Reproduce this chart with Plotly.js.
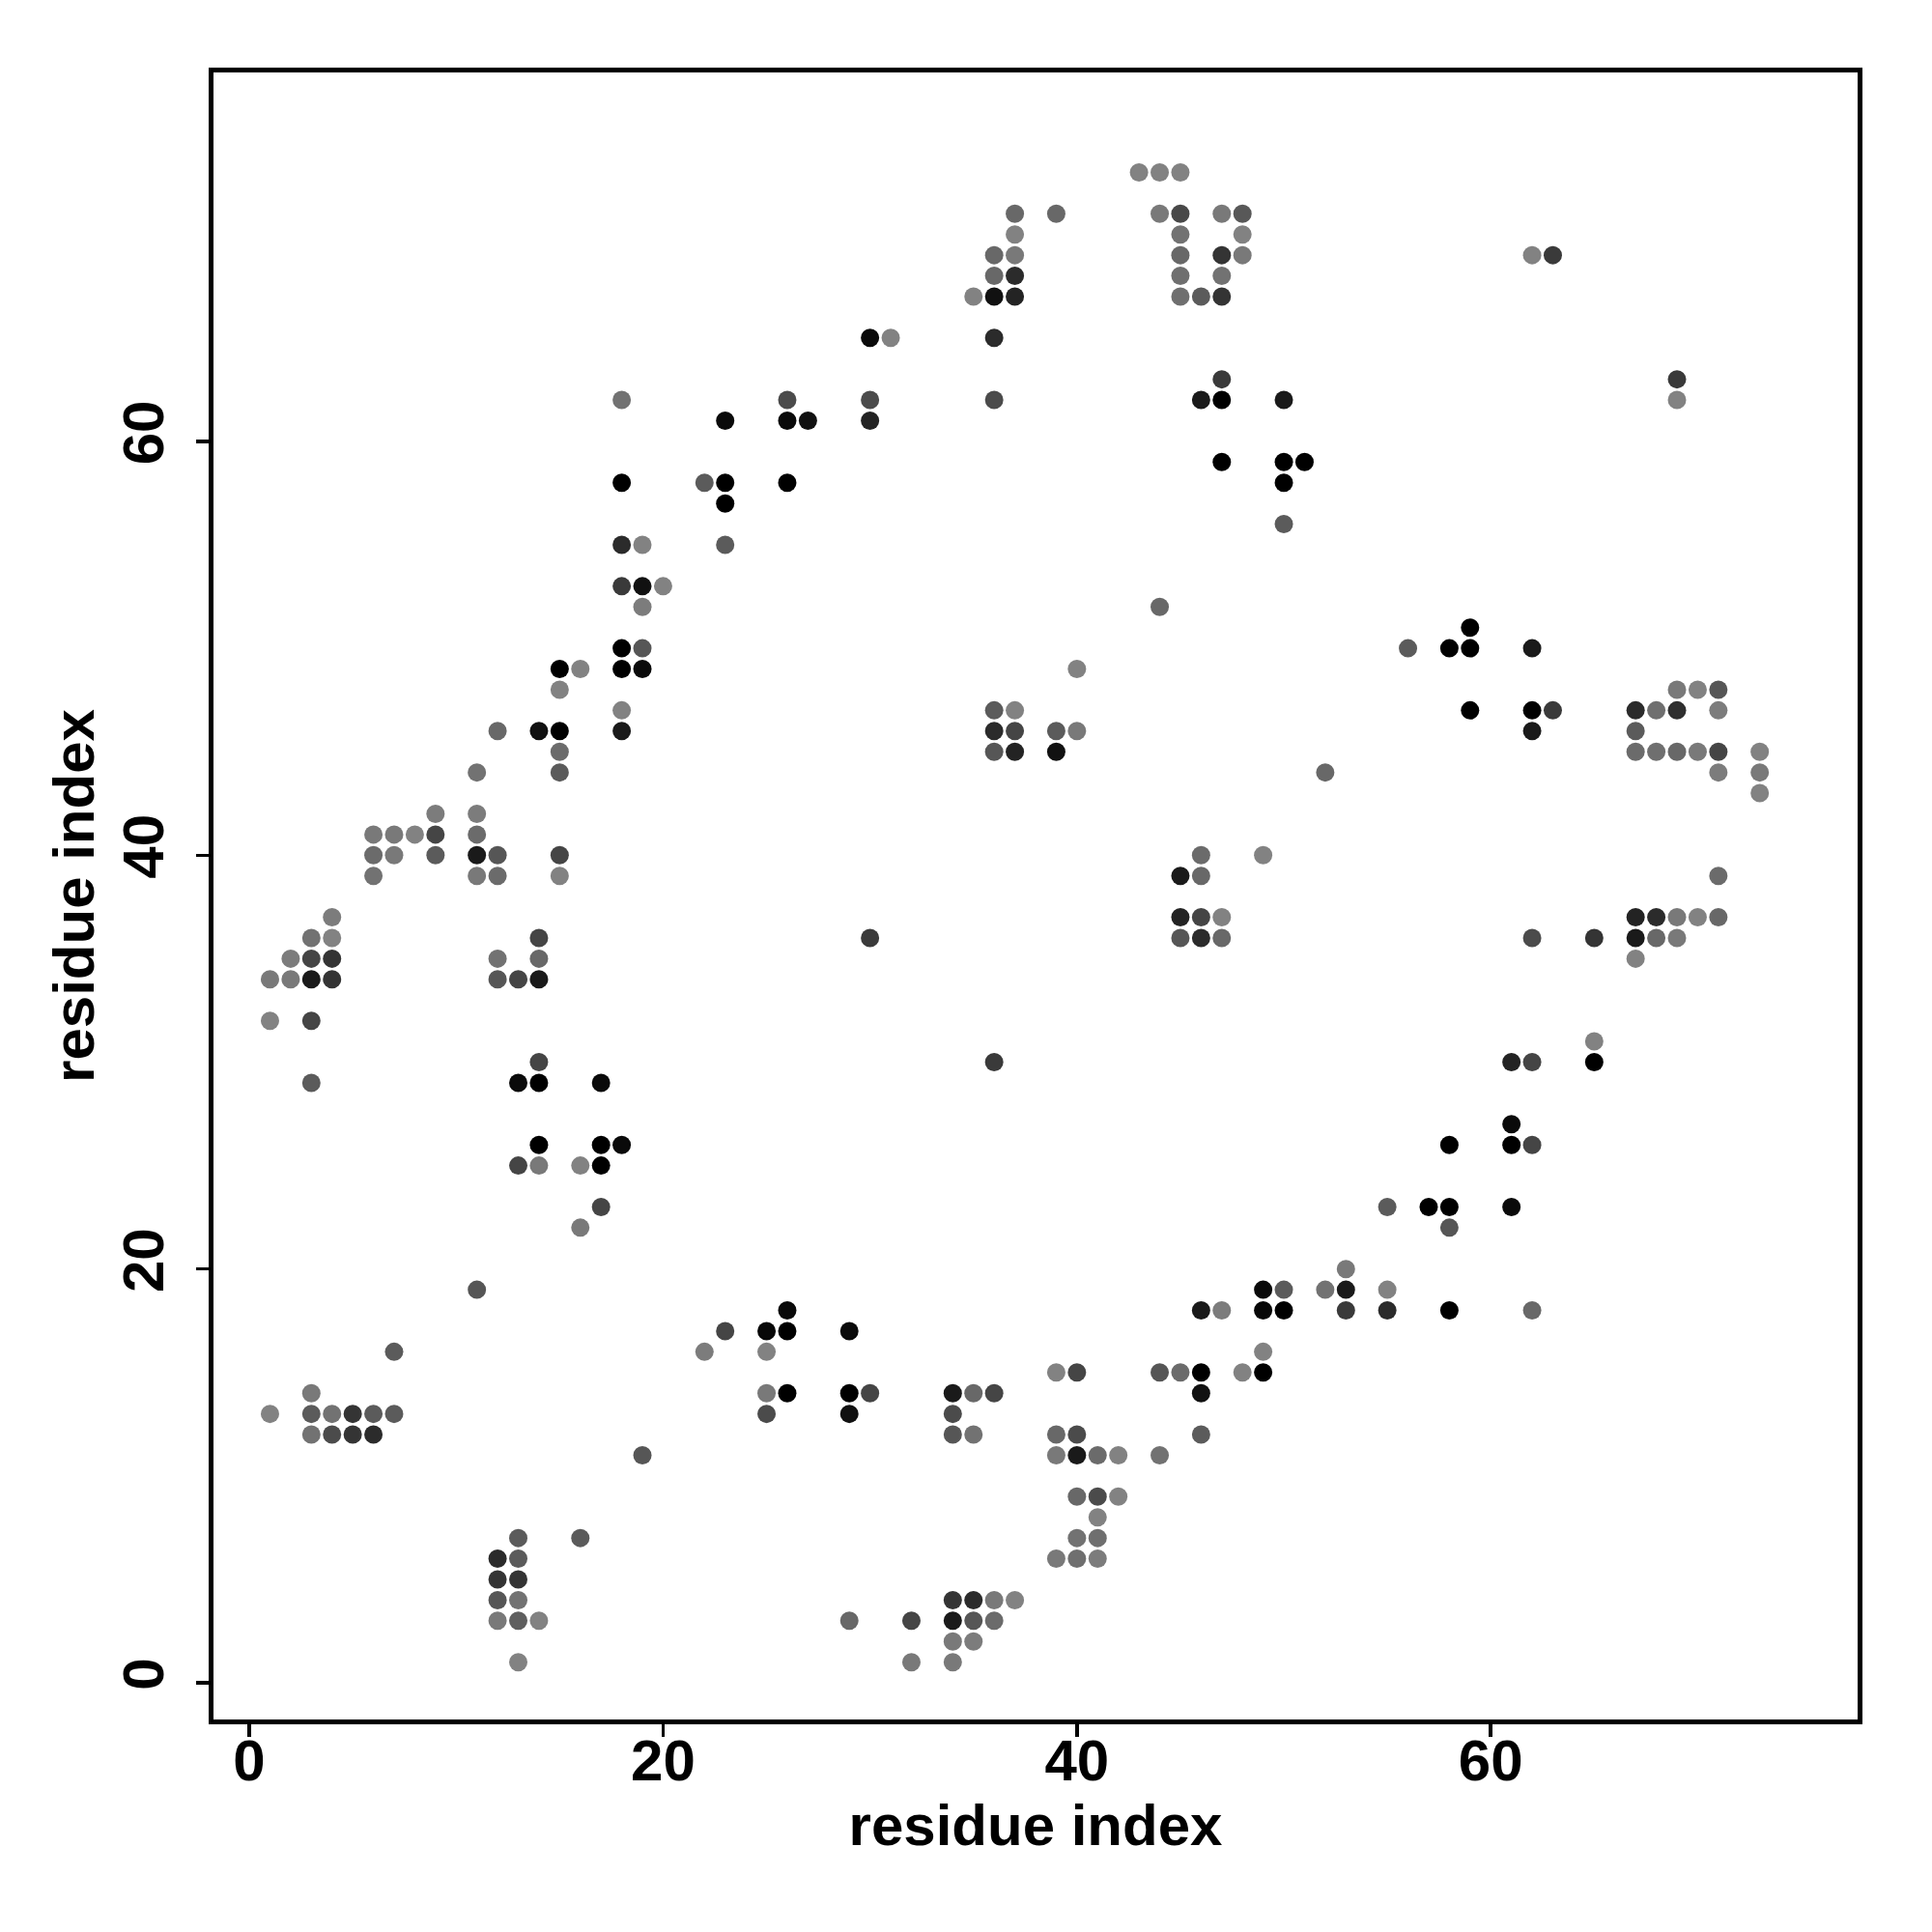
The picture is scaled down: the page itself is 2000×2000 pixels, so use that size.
<!DOCTYPE html>
<html>
<head>
<meta charset="utf-8">
<script src="https://cdn.plot.ly/plotly-3.0.1.min.js"></script>
<style>html,body{margin:0;padding:0;background:#fff;}#plot{width:2000px;height:2000px;}</style>
</head>
<body>
<div id="plot"></div>
<script>
// Contact map: residue j (row) vs residue i, with contact score (0 = light grey, 1 = black)
const rowJ = [73,71,70,69,68,67,65,63,62,61,59,58,57,56,55,53,52,51,50,49,48,47,46,45,44,43,42,41,40,39,37,36,35,34,32,31,30,29,27,26,25,23,22,20,19,18,17,16,15,14,13,12,11,9,8,7,6,5,4,3,2,1];
const rowI = [
  [43,44,45],
  [37,39,44,45,47,48],
  [37,45,48],
  [36,37,45,47,48,62,63],
  [36,37,45,47],
  [35,36,37,45,46,47],
  [30,31,36],
  [47,69],
  [18,26,30,36,46,47,50,69],
  [23,26,27,30],
  [47,50,51],
  [18,22,23,26,50],
  [23],
  [50],
  [18,19,23],
  [18,19,20],
  [19,44],
  [59],
  [18,19,56,58,59,62],
  [15,16,18,19,40],
  [15,69,70,71],
  [18,36,37,59,62,63,67,68,69,71],
  [12,14,15,18,36,37,39,40,62,67],
  [15,36,37,39,67,68,69,70,71,73],
  [11,15,52,71,73],
  [73],
  [9,11],
  [6,7,8,9,11],
  [6,7,9,11,12,15,46,49],
  [6,11,12,15,45,46,71],
  [4,45,46,47,67,68,69,70,71],
  [3,4,14,30,45,46,47,62,65,67,68,69],
  [2,3,4,12,14,67],
  [1,2,3,4,12,13,14],
  [1,3],
  [65],
  [14,36,61,62,65],
  [3,13,14,17],
  [61],
  [14,17,18,58,61,62],
  [13,14,16,17],
  [17,55,57,58,61],
  [16,58],
  [53],
  [11,49,50,52,53,55],
  [26,46,47,49,50,53,55,58,62],
  [23,25,26,29],
  [7,22,25,49],
  [39,40,44,45,46,48,49],
  [3,25,26,29,30,34,35,36,46],
  [1,3,4,5,6,7,25,29,34],
  [3,4,5,6,34,35,39,40,46],
  [19,39,40,41,42,44],
  [40,41,42],
  [41],
  [13,16,40,41],
  [12,13,39,40,41],
  [12,13],
  [12,13,34,35,36,37],
  [12,13,14,29,32,34,35,36],
  [34,35],
  [13,32,34]
];
const rowScore = [
  [0,0,0],
  [0.2,0.2,0.07,0.45,0.07,0.32],
  [0,0.12,0],
  [0.2,0.07,0.2,0.6,0.07,0,0.55],
  [0.2,0.67,0.15,0.12],
  [0,0.87,0.73,0.15,0.3,0.6],
  [0.92,0,0.67],
  [0.55,0.55],
  [0.12,0.42,0.42,0.42,0.8,1,0.8,0],
  [0.92,0.92,0.87,0.73],
  [1,1,1],
  [1,0.3,1,1,1],
  [1],
  [0.3],
  [0.67,0,0.3],
  [0.55,0.87,0],
  [0.05,0.2],
  [1],
  [1,0.34,0.3,1,1,0.8],
  [1,0,1,0.92,0],
  [0,0.07,0,0.34],
  [0,0.3,0,1,1,0.55,0.67,0.15,0.64,0.05],
  [0.2,0.87,1,0.8,0.67,0.47,0.3,0.07,0.8,0.3],
  [0.18,0.34,0.73,0.87,0.18,0.15,0.2,0.07,0.47,0],
  [0.12,0.3,0.2,0.05,0.07],
  [0],
  [0.05,0.05],
  [0.07,0.07,0,0.47,0.18],
  [0.18,0.07,0.3,0.8,0.34,0.47,0.18,0],
  [0.12,0.07,0.18,0,0.8,0.2,0.18],
  [0.05,0.73,0.47,0,0.73,0.67,0.07,0,0.2],
  [0.12,0,0.47,0.55,0.34,0.67,0.2,0.42,0.6,0.8,0.2,0.07],
  [0.05,0.47,0.6,0.12,0.2,0],
  [0.07,0.07,0.8,0.6,0.34,0.47,0.8],
  [0,0.47],
  [0],
  [0.47,0.55,0.73,0.47,1],
  [0.3,0.92,1,0.92],
  [0.92],
  [1,1,0.92,1,1,0.47],
  [0.47,0.07,0,1],
  [0.47,0.3,1,1,0.92],
  [0.07,0.34],
  [0.07],
  [0.34,0.92,0.3,0.12,0.8,0],
  [0.92,0.8,0.05,0.95,1,0.55,0.67,1,0.2],
  [0.47,0.95,1,0.92],
  [0.3,0.05,0,0],
  [0,0.47,0.34,0.18,1,0,1],
  [0.07,0.07,1,1,0.47,0.8,0.2,0.47,0.87],
  [0,0.3,0.12,0.6,0.3,0.3,0.42,0.87,0.42],
  [0.12,0.42,0.6,0.67,0.34,0.12,0.2,0.42,0.3],
  [0.34,0.07,0.8,0.18,0,0.12],
  [0.2,0.42,0],
  [0],
  [0.3,0.3,0.12,0.15],
  [0.67,0.3,0.07,0.15,0.05],
  [0.6,0.6],
  [0.34,0.12,0.6,0.67,0.07,0],
  [0.07,0.27,0,0.2,0.47,0.8,0.34,0.18],
  [0.07,0.05],
  [0,0.07,0.07]
];
const tickVals = [0, 20, 40, 60];
const tickText = ["0", "20", "40", "60"];
const axisLabel = "residue index";

const xs = [], ys = [], cs = [];
rowJ.forEach(function (j, k) {
  rowI[k].forEach(function (i, m) {
    xs.push(i); ys.push(j); cs.push(rowScore[k][m]);
  });
});

const font = {family: "Liberation Sans, Arial, sans-serif", color: "#000", weight: "bold"};

const trace = {
  type: "scatter",
  mode: "markers",
  x: xs,
  y: ys,
  marker: {
    size: 19,
    color: cs,
    cmin: 0,
    cmax: 1,
    colorscale: [[0, "rgb(130,130,130)"], [1, "rgb(0,0,0)"]],
    showscale: false,
    line: {width: 0}
  },
  hoverinfo: "x+y"
};

const layout = {
  width: 2000,
  height: 2000,
  paper_bgcolor: "#fff",
  plot_bgcolor: "#fff",
  showlegend: false,
  margin: {l: 221, r: 77, t: 75, b: 220, pad: 0},
  xaxis: {
    range: [-1.73, 77.73],
    tickvals: tickVals,
    ticktext: tickText,
    ticks: "outside",
    ticklen: 13,
    tickwidth: 3.5,
    tickcolor: "#000",
    showgrid: false,
    zeroline: false,
    showline: true,
    mirror: true,
    linewidth: 5,
    linecolor: "#000",
    tickfont: Object.assign({size: 60}, font),
    ticklabelstandoff: -27,
    automargin: false,
    title: {text: axisLabel, font: Object.assign({size: 60}, font), standoff: 10}
  },
  yaxis: {
    range: [-1.77, 77.83],
    tickvals: tickVals,
    ticktext: tickText,
    tickangle: -90,
    ticks: "outside",
    ticklen: 13,
    tickwidth: 3.5,
    tickcolor: "#000",
    showgrid: false,
    zeroline: false,
    showline: true,
    mirror: true,
    linewidth: 5,
    linecolor: "#000",
    tickfont: Object.assign({size: 60}, font),
    ticklabelstandoff: 10,
    automargin: false,
    title: {text: axisLabel, font: Object.assign({size: 60}, font), standoff: 0}
  }
};

Plotly.newPlot("plot", [trace], layout, {staticPlot: true, displayModeBar: false});
</script>
</body>
</html>
